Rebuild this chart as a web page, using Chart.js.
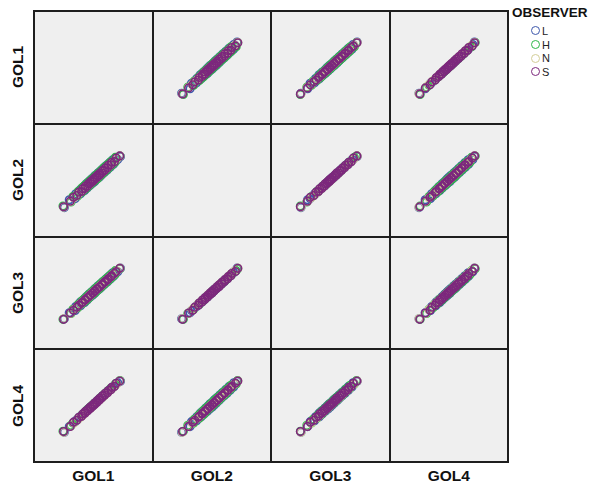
<!DOCTYPE html>
<html>
<head>
<meta charset="utf-8">
<script src="https://cdn.jsdelivr.net/npm/chart.js@4/dist/chart.umd.min.js"></script>
<style>
  html,body{margin:0;padding:0;background:#fff;}
  #wrap{position:relative;width:590px;height:486px;overflow:hidden;font-family:"Liberation Sans",Arial,sans-serif;}
  .cell{position:absolute;background:#efefef;}
  .cell canvas{display:block;}
  .rowlab{position:absolute;font-weight:bold;font-size:15.5px;color:#111;transform:translate(-50%,-50%) rotate(-90deg);white-space:nowrap;}
  .collab{position:absolute;font-weight:bold;font-size:15.5px;color:#111;transform:translate(-50%,-50%);white-space:nowrap;}
  #legend{position:absolute;left:512px;top:5px;}
  #legend .ttl{font-weight:bold;font-size:13.5px;color:#111;line-height:16px;margin-bottom:3px;}
  #legend .it{display:flex;align-items:center;height:13.7px;margin-left:19px;font-size:11px;color:#222;}
  #legend .dot{display:inline-block;width:7px;height:7px;border-radius:50%;border:1.6px solid;margin-right:2px;}
</style>
</head>
<body>
<div id="wrap"></div>
<script>
// ---- data ----
const variables = ["GOL1", "GOL2", "GOL3", "GOL4"];
const observers = ["L", "H", "N", "S"];
const observerColors = ["#3E58AC", "#2EB848", "#D3CE97", "#7C287D"];
const xRange = [154.5, 212];
const yRange = [153, 212.5];

const L_GOL1 = [167.4,170.1,173.3,173.6,176.2,176.0,178.4,177.9,179.8,179.2,181.3,180.6,182.7,181.9,183.9,183.1,185.0,184.1,186.4,185.6,187.6,186.9,189.1,188.4,190.7,190.0,192.3,191.8,194.1,193.7,196.4,197.9];
const L_GOL2 = [166.6,171.2,172.0,174.8,174.9,177.3,176.8,179.1,178.3,180.7,179.8,182.0,181.1,183.4,182.2,184.5,183.5,185.7,184.7,187.1,186.0,188.3,187.5,189.9,189.0,191.5,190.7,193.2,192.5,195.1,195.2,197.0];
const L_GOL3 = [167.2,170.8,172.2,174.6,175.1,177.2,177.0,178.9,178.5,180.4,180.2,181.9,181.4,183.1,182.6,184.2,183.9,185.4,185.1,186.9,186.4,188.1,187.9,189.6,189.4,191.2,191.1,193.0,192.9,194.9,195.5,197.7];
const L_GOL4 = [166.8,170.2,173.1,173.7,176.0,176.1,178.2,177.8,179.6,179.3,181.2,180.7,182.5,181.9,183.8,183.0,184.9,184.2,186.3,185.7,187.5,187.0,189.0,188.5,190.5,190.1,192.2,191.8,194.0,193.8,196.3,197.2];

const H_GOL1 = [166.7,171.0,172.1,174.7,175.0,177.1,176.9,179.0,178.4,180.5,179.9,181.8,181.2,183.2,182.4,184.3,183.6,185.5,184.9,186.9,186.2,188.2,187.6,189.7,189.1,191.3,190.8,193.1,192.6,195.0,195.1,197.6];
const H_GOL2 = [167.5,170.0,173.2,173.5,176.3,175.9,178.3,177.7,179.7,179.1,181.2,180.5,182.6,181.8,183.7,182.9,184.9,184.0,186.2,185.5,187.5,186.8,189.0,188.3,190.6,189.9,192.2,191.7,194.0,193.6,196.5,197.3];
const H_GOL3 = [166.9,170.4,172.9,173.8,175.9,176.3,178.0,178.0,179.4,179.5,181.0,180.9,182.3,182.1,183.5,183.2,184.7,184.4,186.0,185.8,187.3,187.1,188.8,188.6,190.3,190.2,192.0,191.9,193.8,193.9,196.2,197.4];
const H_GOL4 = [167.4,170.9,172.3,174.5,175.2,177.0,177.1,178.8,178.6,180.3,180.3,181.7,181.5,183.0,182.7,184.1,184.0,185.3,185.2,186.8,186.5,188.0,188.0,189.5,189.5,191.1,191.2,192.9,193.0,194.8,195.6,197.6];

const N_GOL1 = [167.1,170.7,172.6,174.3,175.6,176.7,177.6,178.5,179.1,180.0,180.6,181.4,181.9,182.7,183.1,183.8,184.3,185.0,185.6,186.4,186.9,187.7,188.4,189.2,189.9,190.8,191.6,192.6,193.4,194.5,195.9,197.6];
const N_GOL2 = [166.9,170.3,172.4,173.8,175.4,176.3,177.4,178.1,178.9,179.6,180.4,181.0,181.7,182.3,182.9,183.4,184.1,184.6,185.4,186.0,186.7,187.3,188.2,188.8,189.7,190.4,191.4,192.2,193.2,194.1,195.7,197.4];
const N_GOL3 = [167.2,170.6,172.7,174.1,175.7,176.6,177.7,178.4,179.2,179.9,180.7,181.3,182.0,182.6,183.2,183.7,184.4,184.9,185.7,186.3,187.0,187.6,188.5,189.1,190.0,190.7,191.7,192.5,193.5,194.4,196.0,197.7];
const N_GOL4 = [166.8,170.4,172.3,173.9,175.3,176.4,177.3,178.2,178.8,179.7,180.3,181.1,181.6,182.4,182.8,183.5,184.0,184.7,185.3,186.1,186.6,187.4,188.1,188.9,189.6,190.5,191.3,192.3,193.1,194.2,195.6,197.3];

const S_GOL1 = [167.0,170.6,172.4,174.2,175.3,176.8,177.4,178.6,178.8,180.1,180.4,181.5,181.6,182.8,182.9,183.9,184.0,185.1,185.3,186.5,186.6,187.8,188.1,189.3,189.6,190.9,191.3,192.7,193.1,194.6,195.6,197.5];
const S_GOL2 = [167.1,170.4,172.7,173.8,175.8,176.2,177.8,178.0,179.3,179.5,180.8,180.9,182.1,182.2,183.3,183.3,184.5,184.5,185.8,185.9,187.1,187.2,188.6,188.7,190.1,190.3,191.8,192.1,193.6,194.0,196.1,197.4];
const S_GOL3 = [166.9,170.7,172.3,174.2,175.4,176.7,177.3,178.5,178.9,180.0,180.3,181.4,181.7,182.7,182.8,183.8,184.1,185.0,185.4,186.4,186.5,187.7,188.2,189.2,189.7,190.8,191.4,192.6,193.2,194.5,195.7,197.6];
const S_GOL4 = [167.2,170.3,172.8,173.9,175.7,176.3,177.7,178.1,179.2,179.6,180.7,181.0,182.0,182.3,183.2,183.4,184.4,184.6,185.7,186.0,187.0,187.3,188.5,188.8,190.0,190.4,191.7,192.2,193.5,194.1,196.0,197.3];

const table = {
  L: [L_GOL1, L_GOL2, L_GOL3, L_GOL4],
  H: [H_GOL1, H_GOL2, H_GOL3, H_GOL4],
  N: [N_GOL1, N_GOL2, N_GOL3, N_GOL4],
  S: [S_GOL1, S_GOL2, S_GOL3, S_GOL4]
};

// ---- layout ----
const colEdges = [34, 152.5, 271, 389.5, 508];
const rowEdges = [11, 123.75, 236.5, 349.25, 462];
const lineW = 2;
const wrap = document.getElementById('wrap');

const frame = document.createElement('div');
frame.style.cssText = `position:absolute;left:${colEdges[0]-lineW/2}px;top:${rowEdges[0]-lineW/2}px;width:${colEdges[4]-colEdges[0]+lineW}px;height:${rowEdges[4]-rowEdges[0]+lineW}px;background:#1e1e1e;`;
wrap.appendChild(frame);

for (let r = 0; r < 4; r++) {
  for (let c = 0; c < 4; c++) {
    const x0 = Math.round(colEdges[c] + lineW/2), x1 = Math.round(colEdges[c+1] - lineW/2);
    const y0 = Math.round(rowEdges[r] + lineW/2), y1 = Math.round(rowEdges[r+1] - lineW/2);
    const cell = document.createElement('div');
    cell.className = 'cell';
    cell.style.left = x0 + 'px'; cell.style.top = y0 + 'px';
    cell.style.width = (x1 - x0) + 'px'; cell.style.height = (y1 - y0) + 'px';
    wrap.appendChild(cell);
    if (r === c) continue;
    const cv = document.createElement('canvas');
    cv.width = x1 - x0; cv.height = y1 - y0;
    cv.style.width = (x1 - x0) + 'px'; cv.style.height = (y1 - y0) + 'px';
    cell.appendChild(cv);
    const datasets = observers.map((o, k) => ({
      label: o,
      data: table[o][c].map((xv, i) => ({x: xv, y: table[o][r][i]})),
      pointRadius: 3.8,
      pointBorderWidth: 1.6,
      pointBorderColor: observerColors[k],
      pointBackgroundColor: 'rgba(0,0,0,0)',
      showLine: false,
      order: 4 - k
    }));
    new Chart(cv, {
      type: 'scatter',
      data: { datasets },
      options: {
        responsive: false,
        animation: false,
        events: [],
        layout: { padding: 0 },
        plugins: { legend: { display: false }, tooltip: { enabled: false } },
        scales: {
          x: { type: 'linear', display: false, min: xRange[0], max: xRange[1] },
          y: { type: 'linear', display: false, min: yRange[0], max: yRange[1] }
        }
      }
    });
  }
}

variables.forEach((v, r) => {
  const d = document.createElement('div');
  d.className = 'rowlab';
  d.textContent = v;
  d.style.left = '18px';
  d.style.top = ((rowEdges[r] + rowEdges[r+1]) / 2) + 'px';
  wrap.appendChild(d);
});
variables.forEach((v, c) => {
  const d = document.createElement('div');
  d.className = 'collab';
  d.textContent = v;
  d.style.left = ((colEdges[c] + colEdges[c+1]) / 2) + 'px';
  d.style.top = '476px';
  wrap.appendChild(d);
});
const lg = document.createElement('div');
lg.id = 'legend';
let html = '<div class="ttl">OBSERVER</div>';
observers.forEach((o, k) => {
  html += `<div class="it"><span class="dot" style="border-color:${observerColors[k]}"></span>${o}</div>`;
});
lg.innerHTML = html;
wrap.appendChild(lg);
</script>
</body>
</html>
